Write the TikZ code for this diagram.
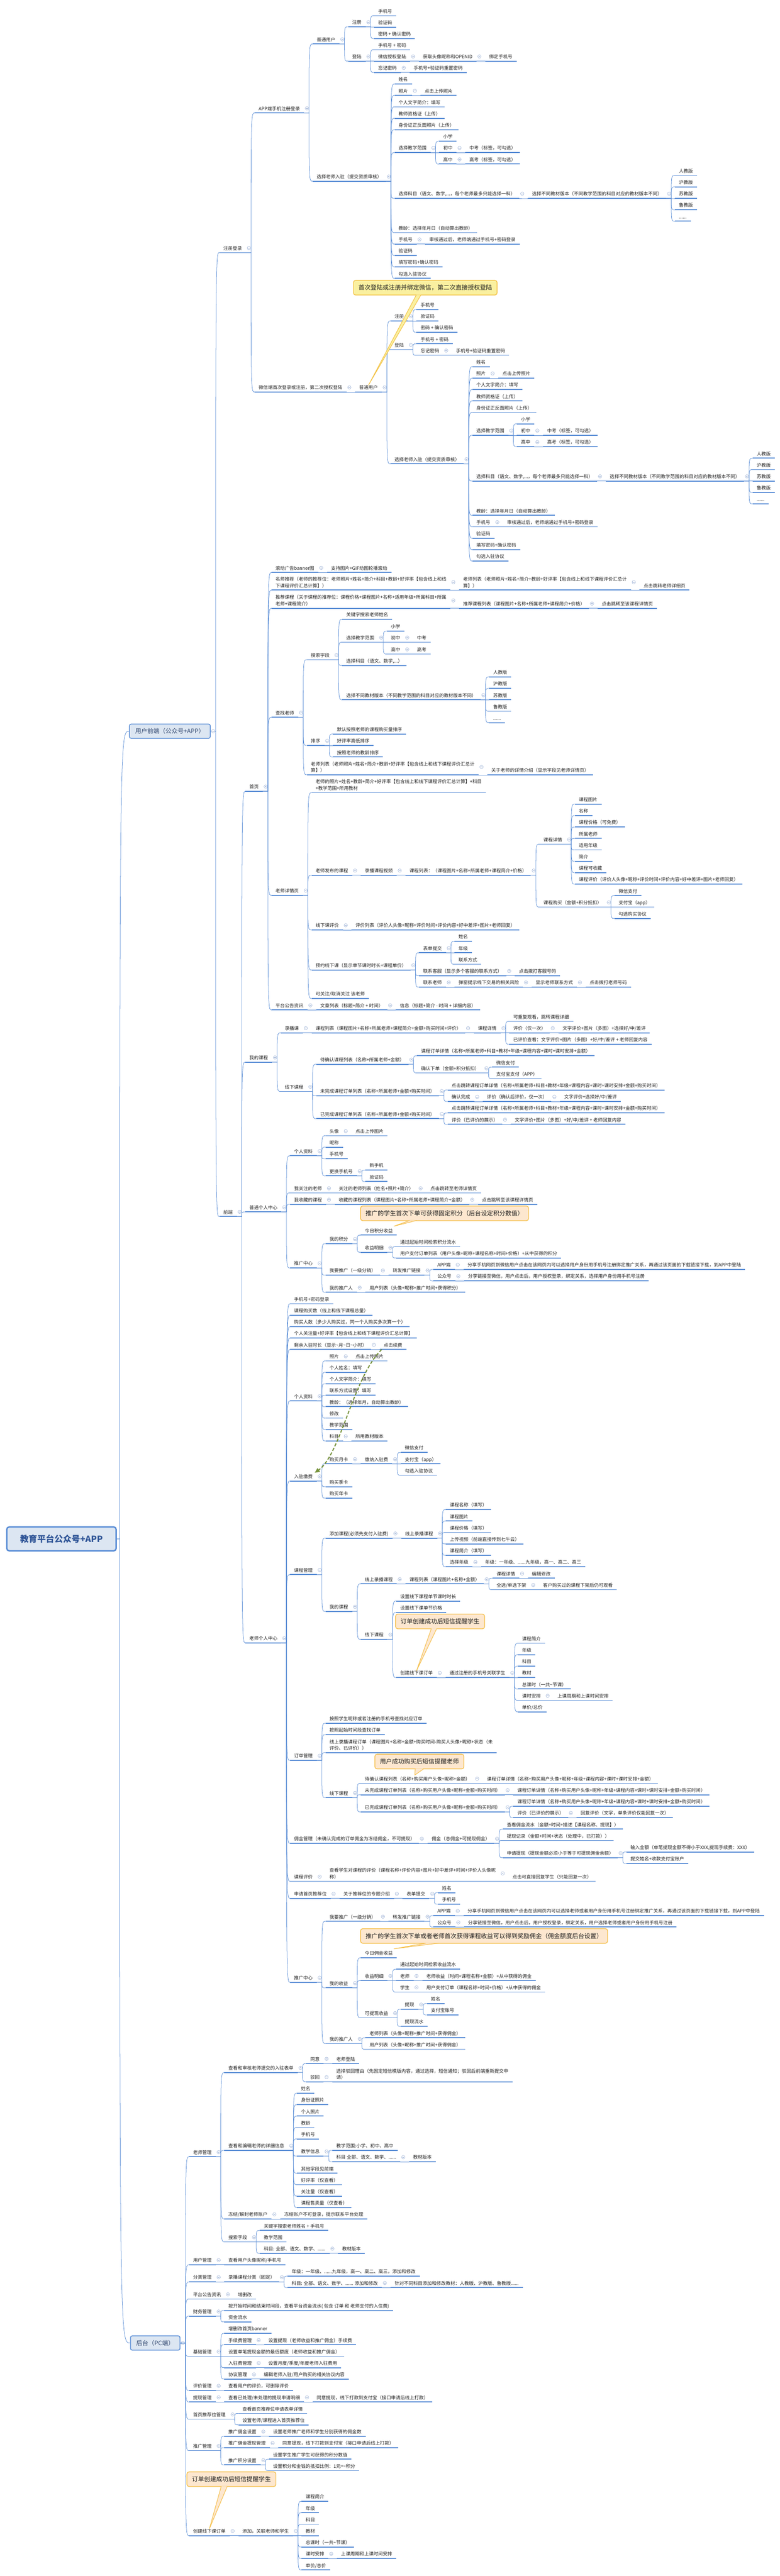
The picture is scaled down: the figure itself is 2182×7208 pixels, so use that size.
\documentclass[tikz,border=0pt]{standalone}
\usepackage{fontspec}
\setmainfont{Noto Sans CJK SC}
\usetikzlibrary{calc,arrows.meta}
\definecolor{lb}{RGB}{91,142,214}
\definecolor{txt}{RGB}{30,30,30}
\definecolor{mkc}{RGB}{160,180,215}
\definecolor{boxfill}{RGB}{220,230,242}
\definecolor{boxtxt}{RGB}{50,72,112}
\definecolor{roottxt}{RGB}{47,85,151}
\definecolor{cyfill}{RGB}{250,240,160}
\definecolor{cyline}{RGB}{243,194,70}
\definecolor{cpfill}{RGB}{253,231,207}
\definecolor{cpline}{RGB}{245,192,75}
\definecolor{dgreen}{RGB}{119,147,60}
\tikzset{
  x=1pt,y=-1pt,
  mmn/.style={anchor=south west, inner xsep=11.5pt, inner ysep=0pt, outer sep=0pt,
    text height=11.5pt, text depth=7.5pt, font=\fontsize{13}{18}\selectfont, text=txt},
  ul/.style={draw=lb, line width=2.6pt},
  conn/.style={draw=lb, line width=1.1pt},
  mk/.style={circle, draw=mkc, fill=white, line width=0.9pt, minimum size=9.5pt, inner sep=0pt},
  rootbox/.style={rounded corners=7pt, draw=lb, line width=4pt, fill=boxfill, minimum width=306pt,
    minimum height=67pt, font=\fontsize{24}{28}\selectfont\bfseries, text=roottxt},
  tbox/.style={rounded corners=5pt, draw=lb, line width=2.2pt, fill=boxfill, minimum height=40pt,
    inner xsep=16pt, font=\fontsize{17}{20}\selectfont, text=boxtxt, anchor=west},
  alias/.style={inner sep=0pt, outer sep=0pt, minimum size=0pt},
  cally/.style={rounded corners=6pt, draw=cyline, line width=2pt, fill=cyfill, minimum height=41pt,
    inner xsep=14pt, font=\fontsize{17}{20}\selectfont, text=txt, anchor=west},
  callp/.style={rounded corners=6pt, draw=cpline, line width=2pt, fill=cpfill, minimum height=41pt,
    inner xsep=14pt, font=\fontsize{17}{20}\selectfont, text=txt, anchor=west},
  taily/.style={fill=cyfill, draw=cyline, line width=1.5pt, line join=round},
  tailp/.style={fill=cpfill, draw=cpline, line width=1.5pt, line join=round},
  darr/.style={draw=dgreen, line width=3pt, dash pattern=on 9pt off 5pt, -{Triangle[length=14pt,width=12pt]}},
}
\newcommand\tl[1]{\begin{tabular}[b]{@{}l@{}}#1\end{tabular}}
\newcommand\mm[5][]{%
  \path let \p1=(#3.south east) in node[mmn,#1] (#2) at (\x1+24pt,{-(#4)*1pt-13pt}) {#5};
  \draw[ul] (#2.south west) -- (#2.south east);
  \draw[conn] let \p1=(#3.south east), \p2=(#2.south west) in
    (\p1) -- (\x1+14pt,\y1) .. controls (\x1+14pt,\y2) .. (\p2);
  \ifcsname mkd#3\endcsname\else
    \expandafter\gdef\csname mkd#3\endcsname{}%
    \node[mk] at ($(#3.east)+(8,-3.5)$) {};
    \draw[mkc, line width=0.9pt] ($(#3.east)+(5.5,-3.5)$) -- ($(#3.east)+(10.5,-3.5)$);
  \fi
}
\newcommand\tregblock[3]{%
\mm{#1}{#2}{#3}{选择老师入驻（提交资质审核）}
\mm{#1a}{#1}{#3-272}{姓名}
\mm{#1b}{#1}{#3-240}{照片}
\mm{#1bx}{#1b}{#3-240}{点击上传照片}
\mm{#1c}{#1}{#3-208}{个人文字简介：填写}
\mm{#1d}{#1}{#3-176}{教师资格证（上传）}
\mm{#1e}{#1}{#3-144}{身份证正反面照片（上传）}
\mm{#1f}{#1}{#3-80}{选择教学范围}
\mm{#1fa}{#1f}{#3-112}{小学}
\mm{#1fb}{#1f}{#3-80}{初中}
\mm{#1fbx}{#1fb}{#3-80}{中考（标签，可勾选）}
\mm{#1fc}{#1f}{#3-48}{高中}
\mm{#1fcx}{#1fc}{#3-48}{高考（标签，可勾选）}
\mm{#1g}{#1}{#3+48}{选择科目（语文、数学,...，每个老师最多只能选择一科）}
\mm{#1gx}{#1g}{#3+48}{选择不同教材版本（不同教学范围的科目对应的教材版本不同）}
\mm{#1gb}{#1gx}{#3-16}{人教版}
\mm{#1gc}{#1gx}{#3+16}{沪教版}
\mm{#1gd}{#1gx}{#3+48}{苏教版}
\mm{#1ge}{#1gx}{#3+80}{鲁教版}
\mm{#1gf}{#1gx}{#3+112}{......}
\mm{#1h}{#1}{#3+144}{教龄：选择年月日（自动算出教龄）}
\mm{#1i}{#1}{#3+176}{手机号}
\mm{#1ix}{#1i}{#3+176}{审核通过后，老师端通过手机号+密码登录}
\mm{#1j}{#1}{#3+208}{验证码}
\mm{#1k}{#1}{#3+240}{填写密码+确认密码}
\mm{#1l}{#1}{#3+272}{勾选入驻协议}
}
\begin{document}
\begin{tikzpicture}
\fill[white] (0,0) rectangle (2182,7208);
\path[use as bounding box] (0,0) rectangle (2182,7208);

% root and trunk boxes
\node[rootbox] (root) at (172,4306) {教育平台公众号+APP};
\node[tbox] (fe) at (361,2046) {用户前端（公众号+APP）};
\node[tbox] (ht) at (364,6556) {后台（PC端）};
\draw[conn] let \p1=(root.east), \p2=(fe.west) in (\p1) -- (\x1+8pt,\y1) .. controls (\x1+8pt,\y2) .. (\p2);
\draw[conn] let \p1=(root.east), \p2=(ht.west) in (\p1) -- (\x1+8pt,\y1) .. controls (\x1+8pt,\y2) .. (\p2);
\node[alias] (feX) at (fe.east) {};
\node[alias] (htX) at (ht.east) {};
\expandafter\gdef\csname mkdfeX\endcsname{}
\expandafter\gdef\csname mkdhtX\endcsname{}

% ===== 用户前端 =====
\mm{zc}{feX}{694}{注册登录}
\mm{qd}{feX}{3391}{前端}
\node[mk] at ($(fe.east)+(7,0)$) {};
\draw[mkc, line width=0.9pt] ($(fe.east)+(4.5,0)$) -- ($(fe.east)+(9.5,0)$);
\mm{app}{zc}{303}{APP端手机注册登录}
\mm{wx}{zc}{1084}{微信端首次登录或注册，第二次授权登陆}
\mm{pa}{app}{110}{普通用户}
\mm{paz}{pa}{62}{注册}
\mm{paz1}{paz}{31}{手机号}
\mm{paz2}{paz}{63}{验证码}
\mm{paz3}{paz}{95}{密码 + 确认密码}
\mm{pad}{pa}{158}{登陆}
\mm{pad1}{pad}{126}{手机号 + 密码}
\mm{pad2}{pad}{158}{微信授权登陆}
\mm{pad2a}{pad2}{158}{获取头像昵称和OPENID}
\mm{pad2b}{pad2a}{158}{绑定手机号}
\mm{pad3}{pad}{190}{忘记密码}
\mm{pad3a}{pad3}{190}{手机号+验证码重置密码}
\tregblock{TA}{app}{494}
\mm{pb}{wx}{1084}{普通用户}
\mm{pbz}{pb}{885}{注册}
\mm{pbz1}{pbz}{853}{手机号}
\mm{pbz2}{pbz}{885}{验证码}
\mm{pbz3}{pbz}{917}{密码 + 确认密码}
\mm{pbd}{pb}{965}{登陆}
\mm{pbd1}{pbd}{949}{手机号 + 密码}
\mm{pbd2}{pbd}{981}{忘记密码}
\mm{pbd2a}{pbd2}{981}{手机号+验证码重置密码}
\tregblock{TB}{pb}{1285}

% 首页
\mm{sy}{qd}{2201}{首页}
\mm{sy1}{sy}{1589}{滚动广告banner图}
\mm{sy1a}{sy1}{1589}{支持图片+GIF动图轮播滚动}
\mm[text height=29.5pt]{sy2}{sy}{1638}{\tl{名师推荐（老师的推荐位：老师照片+姓名+简介+科目+教龄+好评率【包含线上和线\\下课程评价汇总计算】）}}
\mm[text height=29.5pt]{sy2a}{sy2}{1638}{\tl{老师列表（老师照片+姓名+简介+教龄+好评率【包含线上和线下课程评价汇总计\\算】）}}
\mm{sy2b}{sy2a}{1638}{点击跳转老师详细页}
\mm[text height=29.5pt]{sy3}{sy}{1689}{\tl{推荐课程（关于课程的推荐位：课程价格+课程图片+名称+适用年级+所属科目+所属\\老师+课程简介）}}
\mm{sy3a}{sy3}{1689}{推荐课程列表（课程图片+名称+所属老师+课程简介+价格）}
\mm{sy3b}{sy3a}{1689}{点击跳转至该课程详情页}
\mm{sy4}{sy}{1994}{查找老师}
\mm{ss}{sy4}{1833}{搜索字段}
\mm{ss1}{ss}{1720}{关键字搜索老师姓名}
\mm{ss2}{ss}{1784}{选择教学范围}
\mm{ss2a}{ss2}{1753}{小学}
\mm{ss2b}{ss2}{1784}{初中}
\mm{ss2ba}{ss2b}{1784}{中考}
\mm{ss2c}{ss2}{1817}{高中}
\mm{ss2ca}{ss2c}{1817}{高考}
\mm{ss3}{ss}{1849}{选择科目（语文、数学,...）}
\mm{ss4}{ss}{1945}{选择不同教材版本（不同教学范围的科目对应的教材版本不同）}
\mm{ss4a}{ss4}{1881}{人教版}
\mm{ss4b}{ss4}{1913}{沪教版}
\mm{ss4c}{ss4}{1945}{苏教版}
\mm{ss4d}{ss4}{1977}{鲁教版}
\mm{ss4e}{ss4}{2009}{......}
\mm{px}{sy4}{2073}{排序}
\mm{px1}{px}{2041}{默认按照老师的课程购买量排序}
\mm{px2}{px}{2073}{好评率高低排序}
\mm{px3}{px}{2105}{按照老师的教龄排序}
\mm[text height=29.5pt]{sy4c}{sy4}{2155}{\tl{老师列表（老师照片+姓名+简介+教龄+好评率【包含线上和线下课程评价汇总计\\算】）}}
\mm{sy4ca}{sy4c}{2155}{关于老师的详情介绍（显示字段见老师详情页）}
\mm{xq}{sy}{2492}{老师详情页}
\mm[text height=29.5pt]{xq1}{xq}{2205}{\tl{老师的照片+姓名+教龄+简介+好评率【包含线上和线下课程评价汇总计算】+科目\\+教学范围+所用教材}}
\mm{xq2}{xq}{2436}{老师发布的课程}
\mm{xq2a}{xq2}{2436}{录播课程视频}
\mm{xq2b}{xq2a}{2436}{课程列表：（课程图片+名称+所属老师+课程简介+价格）}
\mm{kx}{xq2b}{2349}{课程详情}
\mm{kx1}{kx}{2237}{课程图片}
\mm{kx2}{kx}{2269}{名称}
\mm{kx3}{kx}{2301}{课程价格（可免费）}
\mm{kx4}{kx}{2333}{所属老师}
\mm{kx5}{kx}{2365}{适用年级}
\mm{kx6}{kx}{2397}{简介}
\mm{kx7}{kx}{2429}{课程可收藏}
\mm{kx8}{kx}{2461}{课程评价（评价人头像+昵称+评价时间+评价内容+好中差评+图片+老师回复）}
\mm{kg}{xq2b}{2525}{课程购买（金额+积分抵扣）}
\mm{kg1}{kg}{2493}{微信支付}
\mm{kg2}{kg}{2525}{支付宝（app）}
\mm{kg3}{kg}{2557}{勾选购买协议}
\mm{xq3}{xq}{2589}{线下课评价}
\mm{xq3a}{xq3}{2589}{评价列表（评价人头像+昵称+评价时间+评价内容+好中差评+图片+老师回复）}
\mm{xq4}{xq}{2701}{预约线下课（显示单节课时时长+课程单价）}
\mm{yy1}{xq4}{2653}{表单提交}
\mm{yy1a}{yy1}{2621}{姓名}
\mm{yy1b}{yy1}{2653}{年级}
\mm{yy1c}{yy1}{2685}{联系方式}
\mm{yy2}{xq4}{2717}{联系客服（显示多个客服的联系方式）}
\mm{yy2a}{yy2}{2717}{点击拨打客服号码}
\mm{yy3}{xq4}{2749}{联系老师}
\mm{yy3a}{yy3}{2749}{弹窗提示线下交易的相关风险}
\mm{yy3b}{yy3a}{2749}{显示老师联系方式}
\mm{yy3c}{yy3b}{2749}{点击拨打老师号码}
\mm{xq5}{xq}{2781}{可关注/取消关注 该老师}
\mm{gg}{sy}{2813}{平台公告资讯}
\mm{gg1}{gg}{2813}{文章列表（标题+简介 + 时间）}
\mm{gg2}{gg1}{2813}{信息（标题+简介 - 时间 + 详细内容）}

% 我的课程
\mm{wk}{qd}{2959}{我的课程}
\mm{lb}{wk}{2877}{录播课}
\mm{lb1}{lb}{2877}{课程列表（课程图片+名称+所属老师+课程简介+金额+购买时间+评价）}
\mm{lb2}{lb1}{2877}{课程详情}
\mm{lb2a}{lb2}{2845}{可重复观看，跳转课程详细}
\mm{lb2b}{lb2}{2877}{评价（仅一次）}
\mm{lb2ba}{lb2b}{2877}{文字评价+图片（多图）+选择好/中/差评}
\mm{lb2c}{lb2}{2909}{已评价查看：文字评价+图片（多图）+好/中/差评 + 老师回复内容}
\mm{xx}{wk}{3041}{线下课程}
\mm{xx1}{xx}{2965}{待确认课程列表（名称+所属老师+金额）}
\mm{xx1a}{xx1}{2941}{课程订单详情（名称+所属老师+科目+教材+年级+课程内容+课时+课时安排+金额）}
\mm{xx1b}{xx1}{2989}{确认下单（金额+积分抵扣）}
\mm{xx1ba}{xx1b}{2973}{微信支付}
\mm{xx1bb}{xx1b}{3005}{支付宝支付（APP）}
\mm{xx2}{xx}{3053}{未完成课程订单列表（名称+所属老师+金额+购买时间）}
\mm{xx2a}{xx2}{3037}{点击跳转课程订单详情（名称+所属老师+科目+教材+年级+课程内容+课时+课时安排+金额+购买时间）}
\mm{xx2b}{xx2}{3069}{确认完成}
\mm{xx2ba}{xx2b}{3069}{评价（确认后评价，仅一次）}
\mm{xx2bb}{xx2ba}{3069}{文字评价+选择好/中/差评}
\mm{xx3}{xx}{3117}{已完成课程订单列表（名称+所属老师+金额+购买时间）}
\mm{xx3a}{xx3}{3101}{点击跳转课程订单详情（名称+所属老师+科目+教材+年级+课程内容+课时+课时安排+金额+购买时间）}
\mm{xx3b}{xx3}{3133}{评价（已评价的展示）}
\mm{xx3ba}{xx3b}{3133}{文字评价+图片（多图）+好/中/差评 + 老师回复内容}

% 普通个人中心
\mm{pc}{qd}{3378}{普通个人中心}
\mm{pc1}{pc}{3221}{个人资料}
\mm{pc1a}{pc1}{3165}{头像}
\mm{pc1aa}{pc1a}{3165}{点击上传图片}
\mm{pc1b}{pc1}{3197}{昵称}
\mm{pc1c}{pc1}{3229}{手机号}
\mm{pc1d}{pc1}{3277}{更换手机号}
\mm{pc1da}{pc1d}{3261}{新手机}
\mm{pc1db}{pc1d}{3293}{验证码}
\mm{pc2}{pc}{3325}{我关注的老师}
\mm{pc2a}{pc2}{3325}{关注的老师列表（姓名+照片+简介）}
\mm{pc2b}{pc2a}{3325}{点击跳转至老师详情页}
\mm{pc3}{pc}{3357}{我收藏的课程}
\mm{pc3a}{pc3}{3357}{收藏的课程列表（课程图片+名称+所属老师+课程简介+金额）}
\mm{pc3b}{pc3a}{3357}{点击跳转至该课程详情页}
\mm{pc4}{pc}{3535}{推广中心}
\mm{jf}{pc4}{3467}{我的积分}
\mm{jf1}{jf}{3443}{今日积分收益}
\mm{jf2}{jf}{3491}{收益明细}
\mm{jf2a}{jf2}{3475}{通过起始时间检索积分流水}
\mm{jf2b}{jf2}{3507}{用户支付订单列表（用户头像+昵称+课程名称+时间+价格）+从中获得的积分}
\mm{tg}{pc4}{3555}{我要推广（一级分销）}
\mm{tg1}{tg}{3555}{转发推广链接}
\mm{tg1a}{tg1}{3539}{APP端}
\mm{tg1aa}{tg1a}{3539}{分享手机网页到微信用户点击在该网页内可以选择用户身份用手机号注册绑定推广关系，再通过该页面的下载链接下载，到APP中登陆}
\mm{tg1b}{tg1}{3571}{公众号}
\mm{tg1ba}{tg1b}{3571}{分享链接至微信，用户点击后，用户授权登录，绑定关系，选择用户身份用手机号注册}
\mm{tr}{pc4}{3603}{我的推广人}
\mm{tr1}{tr}{3603}{用户列表（头像+昵称+推广时间+获得积分）}

% 老师个人中心
\mm{lc}{qd}{4584}{老师个人中心}
\mm{lc1}{lc}{3635}{手机号+密码登录}
\mm{lc2}{lc}{3667}{课程购买数（线上和线下课程总量）}
\mm{lc3}{lc}{3699}{购买人数（多少人购买过，同一个人购买多次算一个）}
\mm{lc4}{lc}{3731}{个人关注量+好评率【包含线上和线下课程评价汇总计算】}
\mm{lc5}{lc}{3763}{剩余入驻时长（显示\textasciitilde 月\textasciitilde 日\textasciitilde 小时）}
\mm{lc5a}{lc5}{3763}{点击续费}
\mm{lc6}{lc}{3907}{个人资料}
\mm{lc6a}{lc6}{3795}{照片}
\mm{lc6aa}{lc6a}{3795}{点击上传照片}
\mm{lc6b}{lc6}{3827}{个人姓名：填写}
\mm{lc6c}{lc6}{3859}{个人文字简介：填写}
\mm{lc6d}{lc6}{3891}{联系方式设置：填写}
\mm{lc6e}{lc6}{3923}{教龄：（选择年月，自动算出教龄）}
\mm{lc6f}{lc6}{3955}{修改}
\mm{lc6g}{lc6}{3987}{教学范围}
\mm{lc6h}{lc6}{4019}{科目}
\mm{lc6ha}{lc6h}{4019}{所用教材版本}
\mm{lc7}{lc}{4131}{入驻缴费}
\mm{lc7a}{lc7}{4083}{购买月卡}
\mm{lc7aa}{lc7a}{4083}{缴纳入驻费}
\mm{lc7ab}{lc7aa}{4051}{微信支付}
\mm{lc7ac}{lc7aa}{4083}{支付宝（app）}
\mm{lc7ad}{lc7aa}{4115}{勾选入驻协议}
\mm{lc7b}{lc7}{4147}{购买季卡}
\mm{lc7c}{lc7}{4179}{购买年卡}
\mm{kc}{lc}{4393}{课程管理}
\mm{kc1}{kc}{4291}{添加课程(必须先支付入驻费)}
\mm{kc1a}{kc1}{4291}{线上录播课程}
\mm{kc1a1}{kc1a}{4211}{课程名称（填写）}
\mm{kc1a2}{kc1a}{4243}{课程图片}
\mm{kc1a3}{kc1a}{4275}{课程价格（填写）}
\mm{kc1a4}{kc1a}{4307}{上传视频（前端直接传到七牛云）}
\mm{kc1a5}{kc1a}{4339}{课程简介（填写）}
\mm{kc1a6}{kc1a}{4371}{选择年级}
\mm{kc1a6a}{kc1a6}{4371}{年级：一年级、......九年级，高一、高二、高三}
\mm{kc2}{kc}{4496}{我的课程}
\mm{kc2a}{kc2}{4419}{线上录播课程}
\mm{kc2aa}{kc2a}{4419}{课程列表（课程图片+名称+金额）}
\mm{kc2ab}{kc2aa}{4403}{课程详情}
\mm{kc2aba}{kc2ab}{4403}{编辑修改}
\mm{kc2ac}{kc2aa}{4435}{全选/单选下架}
\mm{kc2aca}{kc2ac}{4435}{客户购买过的课程下架后仍可观看}
\mm{kc2b}{kc2}{4574}{线下课程}
\mm{kc2b1}{kc2b}{4467}{设置线下课程单节课时时长}
\mm{kc2b2}{kc2b}{4499}{设置线下课单节价格}
\mm{kc2b3}{kc2b}{4681}{创建线下课订单}
\mm{kc2b3a}{kc2b3}{4681}{通过注册的手机号关联学生}
\mm{cj1}{kc2b3a}{4585}{课程简介}
\mm{cj2}{kc2b3a}{4617}{年级}
\mm{cj3}{kc2b3a}{4649}{科目}
\mm{cj4}{kc2b3a}{4681}{教材}
\mm{cj5}{kc2b3a}{4713}{总课时（一共\textasciitilde 节课）}
\mm{cj6}{kc2b3a}{4745}{课时安排}
\mm{cj6a}{cj6}{4745}{上课周期和上课时间安排}
\mm{cj7}{kc2b3a}{4777}{单价/总价}
\mm{dd}{lc}{4913}{订单管理}
\mm{dd1}{dd}{4809}{按照学生昵称或者注册的手机号查找对应订单}
\mm{dd2}{dd}{4841}{按照起始时间段查找订单}
\mm[text height=29.5pt]{dd3}{dd}{4891}{\tl{线上录播课程订单（课程图片+名称+金额+购买时间-购买人头像+昵称+状态（未\\评价、已评价））}}
\mm{dd4}{dd}{5017}{线下课程}
\mm{dd4a}{dd4}{4977}{待确认课程列表（名称+购买用户头像+昵称+金额）}
\mm{dd4aa}{dd4a}{4977}{课程订单详情（名称+购买用户头像+昵称+年级+课程内容+课时+课时安排+金额）}
\mm{dd4b}{dd4}{5009}{未完成课程订单列表（名称+购买用户头像+昵称+金额+购买时间）}
\mm{dd4ba}{dd4b}{5009}{课程订单详情（名称+购买用户头像+昵称+年级+课程内容+课时+课时安排+金额+购买时间）}
\mm{dd4c}{dd4}{5057}{已完成课程订单列表（名称+购买用户头像+昵称+金额+购买时间）}
\mm{dd4ca}{dd4c}{5041}{课程订单详情（名称+购买用户头像+昵称+年级+课程内容+课时+课时安排+金额+购买时间）}
\mm{dd4cb}{dd4c}{5073}{评价（已评价的展示）}
\mm{dd4cba}{dd4cb}{5073}{回复评价（文字，单条评价仅能回复一次）}
\mm{yj}{lc}{5145}{佣金管理（未确认完成的订单佣金为冻结佣金，不可提现）}
\mm{yj1}{yj}{5145}{佣金（总佣金+可提现佣金）}
\mm{yj1a}{yj1}{5105}{查看佣金流水（金额+时间+描述【课程名称、提现】）}
\mm{yj1b}{yj1}{5137}{提现记录（金额+时间+状态（处理中，已打款））}
\mm{yj1c}{yj1}{5185}{申请提现（提现金额必须小于等于可提现佣金余额）}
\mm{yj1ca}{yj1c}{5169}{输入金额（单笔提现金额不得小于XXX,提现手续费：XXX）}
\mm{yj1cb}{yj1c}{5201}{提交姓名+收款支付宝账户}
\mm{pj}{lc}{5251}{课程评价}
\mm[text height=29.5pt]{pj1}{pj}{5251}{\tl{查看学生对课程的评价（课程名称+评价内容+图片+好中差评+时间+评价人头像昵\\称）}}
\mm{pj1a}{pj1}{5251}{点击可直接回复学生（只能回复一次）}
\mm{sq}{lc}{5299}{申请首页推荐位}
\mm{sq1}{sq}{5299}{关于推荐位的专题介绍}
\mm{sq1a}{sq1}{5299}{表单提交}
\mm{sq1aa}{sq1a}{5283}{姓名}
\mm{sq1ab}{sq1a}{5315}{手机号}
\mm{lt}{lc}{5534}{推广中心}
\mm{lt1}{lt}{5363}{我要推广（一级分销）}
\mm{lt1a}{lt1}{5363}{转发推广链接}
\mm{lt1aa}{lt1a}{5347}{APP端}
\mm{lt1aaa}{lt1aa}{5347}{分享手机网页到微信用户点击在该网页内可以选择老师或者用户身份用手机号注册绑定推广关系，再通过该页面的下载链接下载，到APP中登陆}
\mm{lt1ab}{lt1a}{5379}{公众号}
\mm{lt1aba}{lt1ab}{5379}{分享链接至微信，用户点击后，用户授权登录，绑定关系，用户选择老师或者用户身份用手机号注册}
\mm{lt2}{lt}{5549}{我的收益}
\mm{lt2a}{lt2}{5465}{今日佣金收益}
\mm{lt2b}{lt2}{5529}{收益明细}
\mm{lt2ba}{lt2b}{5497}{通过起始时间检索收益流水}
\mm{lt2bb}{lt2b}{5529}{老师}
\mm{lt2bba}{lt2bb}{5529}{老师收益（时间+课程名称+金额）+从中获得的佣金}
\mm{lt2bc}{lt2b}{5561}{学生}
\mm{lt2bca}{lt2bc}{5561}{用户支付订单（课程名称+时间+价格）+从中获得的佣金}
\mm{lt2c}{lt2}{5633}{可提现收益}
\mm{lt2ca}{lt2c}{5609}{提现}
\mm{lt2caa}{lt2ca}{5593}{姓名}
\mm{lt2cab}{lt2ca}{5625}{支付宝账号}
\mm{lt2cb}{lt2c}{5657}{提现流水}
\mm{lt3}{lt}{5705}{我的推广人}
\mm{lt3a}{lt3}{5689}{老师列表（头像+昵称+推广时间+获得佣金）}
\mm{lt3b}{lt3}{5721}{用户列表（头像+昵称+推广时间+获得佣金）}

% ===== 后台 =====
\node[mk] at ($(ht.east)+(7,0)$) {};
\draw[mkc, line width=0.9pt] ($(ht.east)+(4.5,0)$) -- ($(ht.east)+(9.5,0)$);
\mm{ls}{htX}{6022}{老师管理}
\mm{ls1}{ls}{5786}{查看和审核老师提交的入驻表单}
\mm{ls1a}{ls1}{5761}{同意}
\mm{ls1aa}{ls1a}{5761}{老师登陆}
\mm{ls1b}{ls1}{5812}{驳回}
\mm[text height=29.5pt]{ls1ba}{ls1b}{5812}{\tl{选择驳回理由（先固定短信模版内容，通过选择，短信通知；驳回后前端重新提交申\\请）}}
\mm{ls2}{ls}{6004}{查看和编辑老师的详细信息}
\mm{ls2a}{ls2}{5844}{姓名}
\mm{ls2b}{ls2}{5876}{身份证照片}
\mm{ls2c}{ls2}{5908}{个人照片}
\mm{ls2d}{ls2}{5940}{教龄}
\mm{ls2e}{ls2}{5972}{手机号}
\mm{ls2f}{ls2}{6020}{教学信息}
\mm{ls2fa}{ls2f}{6004}{教学范围:小学、初中、高中}
\mm{ls2fb}{ls2f}{6036}{科目 全部、语文、数学、......}
\mm{ls2fba}{ls2fb}{6036}{教材版本}
\mm{ls2g}{ls2}{6068}{其他字段见前端}
\mm{ls2h}{ls2}{6100}{好评率（仅查看）}
\mm{ls2i}{ls2}{6132}{关注量（仅查看）}
\mm{ls2j}{ls2}{6164}{课程售卖量（仅查看）}
\mm{ls3}{ls}{6196}{冻结/解封老师账户}
\mm{ls3a}{ls3}{6196}{冻结账户不可登录，提示联系平台处理}
\mm{ls4}{ls}{6260}{搜索字段}
\mm{ls4a}{ls4}{6228}{关键字搜索老师姓名 + 手机号}
\mm{ls4b}{ls4}{6260}{教学范围}
\mm{ls4c}{ls4}{6292}{科目: 全部、语文、数学、......}
\mm{ls4ca}{ls4c}{6292}{教材版本}
\mm{yh}{htX}{6324}{用户管理}
\mm{yh1}{yh}{6324}{查看用户头像昵称/手机号}
\mm{fl}{htX}{6372}{分类管理}
\mm{fl1}{fl}{6372}{录播课程分类（固定）}
\mm{fl1a}{fl1}{6356}{年级：一年级、......九年级，高一、高二、高三，添加和修改}
\mm{fl1b}{fl1}{6388}{科目: 全部、语文、数学、...... 添加和修改}
\mm{fl1ba}{fl1b}{6388}{针对不同科目添加和修改教材：人教版、沪教版、鲁教版......}
\mm{hg}{htX}{6420}{平台公告资讯}
\mm{hg1}{hg}{6420}{增删改}
\mm{cw}{htX}{6468}{财务管理}
\mm{cw1}{cw}{6452}{按开始时间和结束时间段，查看平台资金流水( 包含 订单 和 老师支付的入住费)}
\mm{cw2}{cw}{6484}{资金流水}
\mm{jc}{htX}{6580}{基础管理}
\mm{jc1}{jc}{6516}{增删改首页banner}
\mm{jc2}{jc}{6548}{手续费管理}
\mm{jc2a}{jc2}{6548}{设置提现（老师收益和推广佣金）手续费}
\mm{jc3}{jc}{6580}{设置单笔提现金额的最低额度（老师收益和推广佣金）}
\mm{jc4}{jc}{6612}{入驻费管理}
\mm{jc4a}{jc4}{6612}{设置月度/季度/年度老师入驻费用}
\mm{jc5}{jc}{6644}{协议管理}
\mm{jc5a}{jc5}{6644}{编辑老师入驻/用户购买的相关协议内容}
\mm{pg}{htX}{6676}{评价管理}
\mm{pg1}{pg}{6676}{查看用户的评价，可删除评价}
\mm{tx}{htX}{6708}{提现管理}
\mm{tx1}{tx}{6708}{查看已处理/未处理的提现申请明细}
\mm{tx1a}{tx1}{6708}{同意提现，线下打款到支付宝（接口申请后线上打款）}
\mm{sy5}{htX}{6756}{首页推荐位管理}
\mm{sy5a}{sy5}{6740}{查看首页推荐位申请表单详情}
\mm{sy5b}{sy5}{6772}{设置老师/课程进入首页推荐位}
\mm{tm}{htX}{6844}{推广管理}
\mm{tm1}{tm}{6804}{推广佣金设置}
\mm{tm1a}{tm1}{6804}{设置老师推广老师和学生分别获得的佣金数}
\mm{tm2}{tm}{6836}{推广佣金提现管理}
\mm{tm2a}{tm2}{6836}{同意提现，线下打款到支付宝（接口申请后线上打款）}
\mm{tm3}{tm}{6884}{推广积分设置}
\mm{tm3a}{tm3}{6868}{设置学生推广学生可获得的积分数值}
\mm{tm3b}{tm3}{6900}{设置积分和金钱的抵扣比例：1元=\textasciitilde 积分}
\mm{hc}{htX}{7082}{创建线下课订单}
\mm{hc1}{hc}{7082}{添加，关联老师和学生}
\mm{hc1a}{hc1}{6986}{课程简介}
\mm{hc1b}{hc1}{7018}{年级}
\mm{hc1c}{hc1}{7050}{科目}
\mm{hc1d}{hc1}{7082}{教材}
\mm{hc1e}{hc1}{7114}{总课时（一共\textasciitilde 节课）}
\mm{hc1f}{hc1}{7146}{课时安排}
\mm{hc1fa}{hc1f}{7146}{上课周期和上课时间安排}
\mm{hc1g}{hc1}{7178}{单价/总价}

% ===== callouts =====
\node[cally] (c1) at (988,805) {首次登陆或注册并绑定微信，第二次直接授权登陆};
\filldraw[taily] ($(c1.south west)+(177,-1.5)$) -- (pb.north) -- ($(c1.south west)+(190,-1.5)$);
\node[callp] (c2) at (1008,3395) {推广的学生首次下单可获得固定积分（后台设定积分数值）};
\filldraw[tailp] ($(c2.south west)+(138,-1.5)$) -- ($(jf1.north east)+(-8,-6)$) -- ($(c2.south west)+(158,-1.5)$);
\node[callp] (c3) at (1106,4537) {订单创建成功后短信提醒学生};
\filldraw[tailp] ($(c3.south west)+(101,-1.5)$) -- (kc2b3.north) -- ($(c3.south west)+(116,-1.5)$);
\node[callp] (c4) at (1048,4929) {用户成功购买后短信提醒老师};
\filldraw[tailp] ($(c4.south west)+(114,-1.5)$) -- ($(dd4a.north west)+(151,-4)$) -- ($(c4.south west)+(138,-1.5)$);
\node[callp] (c5) at (1008,5417) {推广的学生首次下单或者老师首次获得课程收益可以得到奖励佣金（佣金额度后台设置）};
\filldraw[tailp] ($(c5.south west)+(184,-1.5)$) -- ($(lt2a.north east)+(-8,-6)$) -- ($(c5.south west)+(220,-1.5)$);
\node[callp] (c6) at (522,6937) {订单创建成功后短信提醒学生};
\filldraw[tailp] ($(c6.south west)+(97,-1.5)$) -- (hc.north) -- ($(c6.south west)+(114,-1.5)$);

% dashed relation
\draw[darr] ($(lc5a.south west)+(6,0)$) .. controls +(-78,74) and +(72,-50) .. ($(lc7.north east)+(-6,-4)$);
\end{tikzpicture}
\end{document}
